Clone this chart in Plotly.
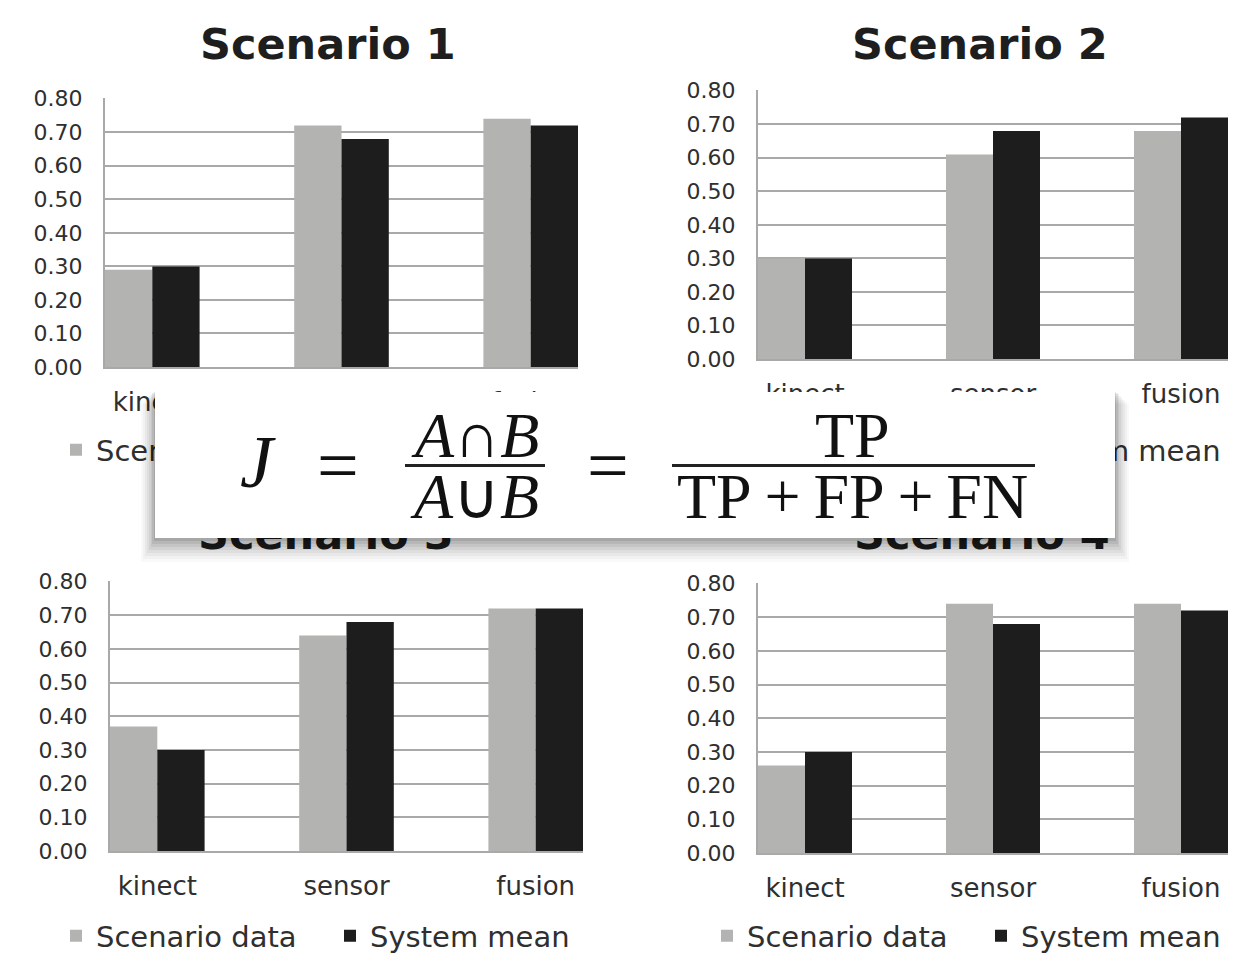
import plotly.graph_objects as go

# ---------------- data ----------------
categories = ["kinect", "sensor", "fusion"]
series_names = ["Scenario data", "System mean"]
panel_titles = ["Scenario 1", "Scenario 2", "Scenario 3", "Scenario 4"]

scenario1_data = [0.29, 0.72, 0.74]
scenario1_mean = [0.30, 0.68, 0.72]
scenario2_data = [0.30, 0.61, 0.68]
scenario2_mean = [0.30, 0.68, 0.72]
scenario3_data = [0.37, 0.64, 0.72]
scenario3_mean = [0.30, 0.68, 0.72]
scenario4_data = [0.26, 0.74, 0.74]
scenario4_mean = [0.30, 0.68, 0.72]

y_tick_values = [0.0, 0.1, 0.2, 0.3, 0.4, 0.5, 0.6, 0.7, 0.8]
y_tick_labels = ["0.00", "0.10", "0.20", "0.30", "0.40", "0.50", "0.60", "0.70", "0.80"]

# ---------------- layout helpers ----------------
# the page body has an 8px margin, so the figure starts 8px in from the window edge
OFF = 8
W, H = 1248 - OFF, 954 - OFF


def fx(p):
    return (p - OFF) / W


def fy(p):
    return 1 - (p - OFF) / H


GRAY = "#b3b3b1"
BLACK = "#1c1d1c"
TEXT = "#2f2f2f"
GRID = "#a9a9a9"
SANS = "DejaVu Sans"
SERIF = "Liberation Serif"

panels = [
    dict(data=scenario1_data, mean=scenario1_mean, xpx=(105, 578), ypx=(98, 367),
         legend="legend", title_xy=(328, 44)),
    dict(data=scenario2_data, mean=scenario2_mean, xpx=(758, 1228), ypx=(90, 359),
         legend="legend2", title_xy=(980, 44)),
    dict(data=scenario3_data, mean=scenario3_mean, xpx=(110, 583), ypx=(581, 851),
         legend="legend3", title_xy=(326, 534)),
    dict(data=scenario4_data, mean=scenario4_mean, xpx=(758, 1228), ypx=(583, 853),
         legend="legend4", title_xy=(982, 534)),
]

fig = go.Figure()
layout_axes = {}
legends = {}
legend_pos = [(56, 450), (707, 450), (56, 936), (707, 936)]

for i, p in enumerate(panels):
    n = "" if i == 0 else str(i + 1)
    xa, ya = "x" + n, "y" + n
    for name, vals, col in ((series_names[0], p["data"], GRAY), (series_names[1], p["mean"], BLACK)):
        fig.add_trace(go.Bar(
            x=categories, y=vals, name=name, xaxis=xa, yaxis=ya,
            marker=dict(color=col, line=dict(width=0)),
            legend=p["legend"], showlegend=True, hoverinfo="skip",
        ))
    layout_axes["xaxis" + n] = dict(
        domain=[fx(p["xpx"][0]), fx(p["xpx"][1])], anchor=ya,
        type="category", range=[-0.25, 2.25],
        showline=True, linecolor=GRID, linewidth=2,
        ticks="outside", ticklen=11, tickcolor="rgba(0,0,0,0)",
        tickfont=dict(family=SANS, size=26, color=TEXT),
        showgrid=False, zeroline=False, fixedrange=True,
    )
    layout_axes["yaxis" + n] = dict(
        domain=[fy(p["ypx"][1]), fy(p["ypx"][0])], anchor=xa,
        range=[0, 0.802], tickvals=y_tick_values, ticktext=y_tick_labels,
        showgrid=True, gridcolor=GRID, gridwidth=2,
        showline=True, linecolor=GRID, linewidth=2,
        ticks="outside", ticklen=16, tickcolor="rgba(0,0,0,0)",
        tickfont=dict(family=SANS, size=22, color=TEXT),
        zeroline=False, fixedrange=True,
    )
    lx, ly = legend_pos[i]
    legends[p["legend"]] = dict(
        orientation="h", x=fx(lx), y=fy(ly), xanchor="left", yanchor="middle",
        font=dict(family=SANS, size=29, color=TEXT), bgcolor="rgba(0,0,0,0)",
        borderwidth=0, itemclick=False, itemdoubleclick=False, traceorder="normal",
        entrywidth=229, entrywidthmode="pixels",
    )

annotations = []
# panel titles (drawn first so the formula box covers the lower ones)
for i, p in enumerate(panels):
    tx, ty = p["title_xy"]
    annotations.append(dict(
        text="<b>" + panel_titles[i] + "</b>", x=fx(tx), y=fy(ty), xref="paper", yref="paper",
        xanchor="center", yanchor="middle", showarrow=False,
        font=dict(family=SANS, size=43, color="#1e1e1e"),
    ))

# formula box with a soft drop shadow
bx0, bx1, by0, by1 = 155, 1115, 392, 538
cx, cy = (bx0 + bx1) / 2, (by0 + by1) / 2
bw, bh = bx1 - bx0, by1 - by0
shadow_layers = [(14, -12, 24, 0.025), (12, -10, 21, 0.03), (10, -8, 18, 0.035),
                 (8, -6, 15, 0.04), (6, -4, 12, 0.05), (4, -2, 9, 0.06),
                 (3, -1, 6, 0.07), (1, 0, 3, 0.09)]
for gx, gtop, gbot, alpha in shadow_layers:
    h = bh + gtop + gbot
    ccy = by0 - gtop + h / 2
    annotations.append(dict(
        text=" ", x=fx(cx), y=fy(ccy), xref="paper", yref="paper",
        xanchor="center", yanchor="middle", showarrow=False,
        width=bw + 2 * gx, height=h,
        bgcolor="rgba(0,0,0,%.3f)" % alpha, borderpad=0, borderwidth=0,
        font=dict(size=2),
    ))
annotations.append(dict(
    text=" ", x=fx(cx), y=fy(cy), xref="paper", yref="paper",
    xanchor="center", yanchor="middle", showarrow=False,
    width=bw, height=bh, bgcolor="white", borderpad=0, borderwidth=0,
    font=dict(size=2),
))


def txt(s, x, y, size):
    return dict(text=s, x=fx(x), y=fy(y), xref="paper", yref="paper",
                xanchor="center", yanchor="middle", showarrow=False,
                font=dict(family=SERIF, size=size, color="#111111"))


def bar(x0, x1, y):
    return dict(text=" ", x=fx((x0 + x1) / 2), y=fy(y), xref="paper", yref="paper",
                xanchor="center", yanchor="middle", showarrow=False,
                width=x1 - x0, height=3, bgcolor="#222222", borderpad=0, borderwidth=0,
                font=dict(size=2))


annotations += [
    txt("<i>J</i>", 258, 462, 74),
    txt("=", 338, 465, 74),
    txt("<i>A</i>\u2229<i>B</i>", 475, 435, 64),
    bar(405, 545, 466),
    txt("<i>A</i>\u222a<i>B</i>", 475, 497, 64),
    txt("=", 608, 465, 74),
    txt("TP", 853, 435, 64),
    bar(672, 1035, 466),
    txt("TP\u2009+\u2009FP\u2009+\u2009FN", 853, 497, 64),
]

fig.update_layout(
    width=W, height=H, autosize=False,
    margin=dict(l=0, r=0, t=0, b=0, autoexpand=False),
    paper_bgcolor="white", plot_bgcolor="white",
    barmode="group", bargap=0.5, bargroupgap=0,
    annotations=annotations,
    **layout_axes, **legends,
)

fig.write_html("out.html")
